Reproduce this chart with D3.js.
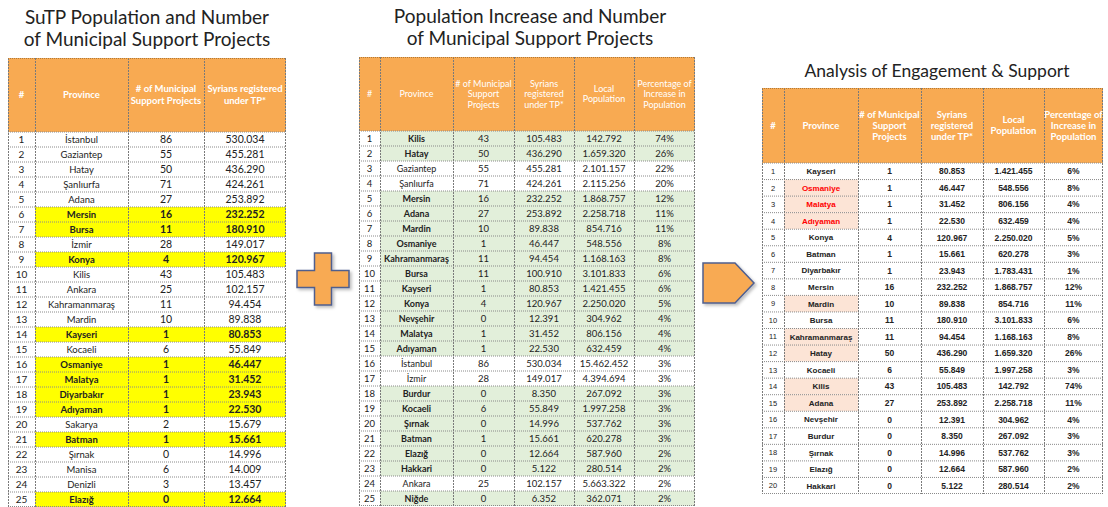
<!DOCTYPE html>
<html>
<head>
<meta charset="utf-8">
<script src="https://cdn.jsdelivr.net/npm/d3@7"></script>
<style>
  body { margin: 0; background: #fff; }
  svg text { font-family: Lato, "Open Sans", sans-serif; }
</style>
</head>
<body>
<div id="chart"></div>
<script>
// ---- table 1: SuTP population and number of projects
var t1Province = ["İstanbul","Gaziantep","Hatay","Şanlıurfa","Adana","Mersin","Bursa","İzmir","Konya","Kilis",
  "Ankara","Kahramanmaraş","Mardin","Kayseri","Kocaeli","Osmaniye","Malatya","Diyarbakır","Adıyaman","Sakarya",
  "Batman","Şırnak","Manisa","Denizli","Elazığ"];
var t1Projects = [86,55,50,71,27,16,11,28,4,43,25,11,10,1,6,1,1,1,1,2,1,0,6,3,0];
var t1Syrians = ["530.034","455.281","436.290","424.261","253.892","232.252","180.910","149.017","120.967","105.483",
  "102.157","94.454","89.838","80.853","55.849","46.447","31.452","23.943","22.530","15.679",
  "15.661","14.996","14.009","13.457","12.664"];
var t1Yellow = [0,0,0,0,0,1,1,0,1,0,0,0,0,1,0,1,1,1,1,0,1,0,0,0,1];

// ---- table 2: population increase
var t2Province = ["Kilis","Hatay","Gaziantep","Şanlıurfa","Mersin","Adana","Mardin","Osmaniye","Kahramanmaraş","Bursa",
  "Kayseri","Konya","Nevşehir","Malatya","Adıyaman","İstanbul","İzmir","Burdur","Kocaeli","Şırnak",
  "Batman","Elazığ","Hakkari","Ankara","Niğde"];
var t2Projects = [43,50,55,71,16,27,10,1,11,11,1,4,0,1,1,86,28,0,6,0,1,0,0,25,0];
var t2Syrians = ["105.483","436.290","455.281","424.261","232.252","253.892","89.838","46.447","94.454","100.910",
  "80.853","120.967","12.391","31.452","22.530","530.034","149.017","8.350","55.849","14.996",
  "15.661","12.664","5.122","102.157","6.352"];
var t2Local = ["142.792","1.659.320","2.101.157","2.115.256","1.868.757","2.258.718","854.716","548.556","1.168.163","3.101.833",
  "1.421.455","2.250.020","304.962","806.156","632.459","15.462.452","4.394.694","267.092","1.997.258","537.762",
  "620.278","587.960","280.514","5.663.322","362.071"];
var t2Increase = [74,26,22,20,12,11,11,8,8,6,6,5,4,4,4,3,3,3,3,3,3,2,2,2,2];
var t2Green = [1,1,0,0,1,1,1,1,1,1,1,1,1,1,1,0,0,1,1,1,1,1,1,0,1];

// ---- table 3: engagement & support
var t3Province = ["Kayseri","Osmaniye","Malatya","Adıyaman","Konya","Batman","Diyarbakır","Mersin","Mardin","Bursa",
  "Kahramanmaraş","Hatay","Kocaeli","Kilis","Adana","Nevşehir","Burdur","Şırnak","Elazığ","Hakkari"];
var t3Projects = [1,1,1,1,4,1,1,16,10,11,11,50,6,43,27,0,0,0,0,0];
var t3Syrians = ["80.853","46.447","31.452","22.530","120.967","15.661","23.943","232.252","89.838","180.910",
  "94.454","436.290","55.849","105.483","253.892","12.391","8.350","14.996","12.664","5.122"];
var t3Local = ["1.421.455","548.556","806.156","632.459","2.250.020","620.278","1.783.431","1.868.757","854.716","3.101.833",
  "1.168.163","1.659.320","1.997.258","142.792","2.258.718","304.962","267.092","537.762","587.960","280.514"];
var t3Increase = [6,8,4,4,5,3,1,12,11,6,8,26,3,74,11,4,3,3,2,2];
var t3Peach = [0,1,1,1,0,0,0,0,1,0,1,1,0,1,1,0,0,0,0,0];
var t3Red = [0,1,1,1,0,0,0,0,0,0,0,0,0,0,0,0,0,0,0,0];

var W = 1108, H = 507;
var orange = "#F8AA52";

var svg = d3.select("#chart").append("svg")
  .attr("width", W)
  .attr("height", H);

var defs = svg.append("defs");
var f = defs.append("filter").attr("id", "shadow").attr("x", "-20%").attr("y", "-20%").attr("width", "150%").attr("height", "150%");
f.append("feDropShadow").attr("dx", 2).attr("dy", 2).attr("stdDeviation", 1.5).attr("flood-color", "#000").attr("flood-opacity", 0.25);

var tableCount = 0;

// generic table drawer
function drawTable(cfg) {
  var n = cfg.rows.length;
  var x0 = cfg.cols[0], x1 = cfg.cols[cfg.cols.length - 1];
  var id = "clip" + (tableCount++);
  defs.append("clipPath").attr("id", id)
    .append("rect")
    .attr("x", x0).attr("y", cfg.headTop)
    .attr("width", x1 - x0).attr("height", cfg.bodyBottom - cfg.headTop);

  var g = svg.append("g").attr("clip-path", "url(#" + id + ")");

  var y = d3.scaleBand()
    .domain(d3.range(n))
    .range([cfg.bodyTop, cfg.bodyBottom]);

  // header
  g.append("rect")
    .attr("x", x0).attr("y", cfg.headTop)
    .attr("width", x1 - x0).attr("height", cfg.bodyTop - cfg.headTop)
    .attr("fill", orange);

  cfg.headers.forEach(function(lines, i) {
    var cx = (cfg.cols[i] + cfg.cols[i + 1]) / 2;
    var cy = (cfg.headTop + cfg.bodyTop) / 2;
    var t = g.append("text")
      .attr("x", cx)
      .attr("text-anchor", "middle")
      .attr("fill", "#fff")
      .attr("font-weight", cfg.headWeight)
      .attr("font-size", cfg.headSize + "px");
    lines.forEach(function(l, k) {
      t.append("tspan")
        .attr("x", cx)
        .attr("y", cy + (k - (lines.length - 1) / 2) * cfg.headLead)
        .attr("dy", "0.35em")
        .text(l);
    });
  });

  // cell backgrounds
  cfg.rows.forEach(function(r, ri) {
    r.fill.forEach(function(c, ci) {
      if (!c) return;
      g.append("rect")
        .attr("x", cfg.cols[ci]).attr("y", y(ri))
        .attr("width", cfg.cols[ci + 1] - cfg.cols[ci]).attr("height", y.bandwidth())
        .attr("fill", c);
    });
  });

  // row lines (dotted)
  g.selectAll(".hline")
    .data(d3.range(n + 1))
    .enter().append("line")
    .attr("x1", x0).attr("x2", x1)
    .attr("y1", d => d < n ? y(d) : cfg.bodyBottom - 0.5)
    .attr("y2", d => d < n ? y(d) : cfg.bodyBottom - 0.5)
    .attr("stroke", "#8a8a8a")
    .attr("stroke-width", 1)
    .attr("stroke-dasharray", "1,1");

  // column lines
  g.selectAll(".vline")
    .data(cfg.cols)
    .enter().append("line")
    .attr("x1", (d, i) => i === cfg.cols.length - 1 ? d - 0.5 : d + 0.5)
    .attr("x2", (d, i) => i === cfg.cols.length - 1 ? d - 0.5 : d + 0.5)
    .attr("y1", cfg.headTop).attr("y2", cfg.bodyBottom)
    .attr("stroke", "#7a7a7a")
    .attr("stroke-width", 1)
    .attr("stroke-dasharray", "2,1");

  // header top line
  g.append("line")
    .attr("x1", x0).attr("x2", x1)
    .attr("y1", cfg.headTop + 0.5).attr("y2", cfg.headTop + 0.5)
    .attr("stroke", "#b07a3a").attr("stroke-dasharray", "1,1");

  // cell text
  cfg.rows.forEach(function(r, ri) {
    r.cells.forEach(function(v, ci) {
      var st = r.style[ci];
      var t = g.append("text")
        .attr("x", (cfg.cols[ci] + cfg.cols[ci + 1]) / 2)
        .attr("y", y(ri) + y.bandwidth() / 2)
        .attr("dy", "0.36em")
        .attr("text-anchor", "middle")
        .attr("font-size", st.size + "px")
        .attr("font-weight", st.weight || "normal")
        .attr("fill", st.color || "#222")
        .text(v);
      if (st.family) t.style("font-family", st.family);
    });
  });
}

function title(lines, cx, y0, lead, size) {
  var t = svg.append("text")
    .attr("text-anchor", "middle")
    .attr("font-size", size + "px")
    .attr("fill", "#222");
  lines.forEach(function(l, k) {
    t.append("tspan").attr("x", cx).attr("y", y0 + k * lead).text(l);
  });
}

// ---- table 1
title(["SuTP Population and Number", "of Municipal Support Projects"], 147, 24, 22, 19);
drawTable({
  cols: [8, 35, 128, 204, 286],
  headTop: 58, bodyTop: 132, bodyBottom: 507,
  headSize: 9.5, headLead: 12, headWeight: "bold",
  headers: [["#"], ["Province"], ["# of Municipal", "Support Projects"], ["Syrians registered", "under TP*"]],
  rows: t1Province.map(function(p, i) {
    var yc = t1Yellow[i] ? "#FFFF00" : null;
    var w = t1Yellow[i] ? "bold" : "normal";
    return {
      cells: [i + 1, p, t1Projects[i], t1Syrians[i]],
      fill: ["#fff", yc || "#fff", yc || "#fff", yc || "#fff"],
      style: [{size: 10}, {size: 9.5, weight: w}, {size: 10.5, weight: w}, {size: 10.5, weight: w}]
    };
  })
});

// ---- table 2
title(["Population Increase and Number", "of Municipal Support Projects"], 530, 23, 22, 19);
drawTable({
  cols: [359, 380, 453, 514, 574, 634, 695],
  headTop: 57, bodyTop: 131, bodyBottom: 506,
  headSize: 9, headLead: 10.5, headWeight: "normal",
  headers: [["#"], ["Province"], ["# of Municipal", "Support", "Projects"], ["Syrians", "registered", "under TP*"],
    ["Local", "Population"], ["Percentage of", "Increase in", "Population"]],
  rows: t2Province.map(function(p, i) {
    var gc = t2Green[i] ? "#E2EFDA" : "#fff";
    return {
      cells: [i + 1, p, t2Projects[i], t2Syrians[i], t2Local[i], t2Increase[i] + "%"],
      fill: ["#fff", gc, gc, gc, gc, gc],
      style: [{size: 9.5}, {size: 9, weight: t2Green[i] ? "bold" : "normal"}, {size: 9.5}, {size: 9.5}, {size: 9.5}, {size: 9.5}]
    };
  })
});

// ---- table 3
title(["Analysis of Engagement & Support"], 937, 77, 0, 17.5);
var arial = "'Liberation Sans', Arial, sans-serif";
drawTable({
  cols: [762, 784, 858, 921, 983, 1044, 1103],
  headTop: 88, bodyTop: 163, bodyBottom: 494,
  headSize: 9.5, headLead: 11, headWeight: "bold",
  headers: [["#"], ["Province"], ["# of Municipal", "Support", "Projects"], ["Syrians", "registered", "under TP*"],
    ["Local", "Population"], ["Percentage of", "Increase in", "Population"]],
  rows: t3Province.map(function(p, i) {
    return {
      cells: [i + 1, p, t3Projects[i], t3Syrians[i], t3Local[i], t3Increase[i] + "%"],
      fill: ["#fff", t3Peach[i] ? "#FCE4D6" : "#fff", "#fff", "#fff", "#fff", "#fff"],
      style: [{size: 7.5, family: arial},
        {size: 8, family: arial, weight: "bold", color: t3Red[i] ? "#FF0000" : "#222"},
        {size: 8.5, family: arial, weight: "bold"}, {size: 8.5, family: arial, weight: "bold"},
        {size: 8.5, family: arial, weight: "bold"}, {size: 8.5, family: arial, weight: "bold"}]
    };
  })
});

// ---- plus sign between table 1 and 2
var pc = {x: 323, y: 279}, arm = 26, half = 8.5;
var plus = [[-half,-arm],[half,-arm],[half,-half],[arm,-half],[arm,half],[half,half],[half,arm],[-half,arm],
  [-half,half],[-arm,half],[-arm,-half],[-half,-half]];
svg.append("path")
  .attr("d", d3.line()(plus.map(p => [pc.x + p[0], pc.y + p[1]])) + "Z")
  .attr("fill", orange)
  .attr("stroke", "#4F5F8F")
  .attr("stroke-width", 1.5)
  .attr("filter", "url(#shadow)");

// ---- pentagon arrow between table 2 and 3
var ac = {x: 703, y: 263};
var arrow = [[0,0],[32,0],[51,20],[32,40],[0,40]];
svg.append("path")
  .attr("d", d3.line()(arrow.map(p => [ac.x + p[0], ac.y + p[1]])) + "Z")
  .attr("fill", orange)
  .attr("stroke", "#4F5F8F")
  .attr("stroke-width", 1.5)
  .attr("filter", "url(#shadow)");
</script>
</body>
</html>
